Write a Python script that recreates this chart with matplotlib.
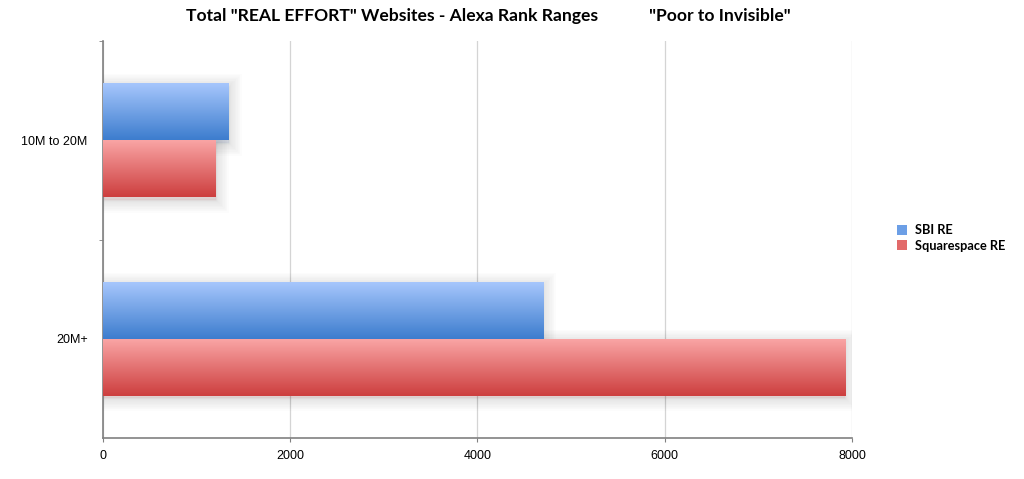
import matplotlib.pyplot as plt
import numpy as np
from matplotlib import patheffects as pe
from matplotlib.colors import LinearSegmentedColormap
from matplotlib.patches import Patch

# data
categories = ["10M to 20M", "20M+"]
series_names = ["SBI RE", "Squarespace RE"]
sbi_re = [1345, 4700]
squarespace_re = [1205, 7930]
x_ticks = [0, 2000, 4000, 6000, 8000]

# gradients top -> bottom, like the original keynote look
blue_grad = ["#a6c6fc", "#3d7dce"]
red_grad = ["#f9a4a4", "#cd3f3f"]

plt.rcParams['font.family'] = ['Liberation Sans', 'DejaVu Sans']

fig = plt.figure(figsize=(10.24, 4.79), dpi=100)
ax = fig.add_axes([0.1006, 0.0856, 0.7314, 0.8288])

y = np.arange(len(categories))
h = 0.287
# soft drop shadow, mostly below the bar
shadow = [pe.Stroke(linewidth=lw, foreground='black', alpha=0.012, offset=(0, -2))
          for lw in range(18, 0, -2)] + [pe.Normal()]

for vals, off, grad in [(sbi_re, -h / 2, blue_grad), (squarespace_re, h / 2, red_grad)]:
    bars = ax.barh(y + off, vals, height=h, color=grad[1], edgecolor='none',
                   zorder=2, path_effects=shadow)
    cmap = LinearSegmentedColormap.from_list('g', grad)
    for b in bars:
        x0, y0, w, hh = b.get_x(), b.get_y(), b.get_width(), b.get_height()
        ax.imshow(np.linspace(0, 1, 64).reshape(-1, 1), cmap=cmap, aspect='auto',
                  extent=(x0, x0 + w, y0 + hh, y0), zorder=3, interpolation='bilinear')

ax.set_xlim(0, 8000)
ax.set_ylim(1.5, -0.5)
ax.set_xticks(x_ticks)
ax.set_xticklabels([str(v) for v in x_ticks], fontsize=9)
ax.set_yticks(y)
ax.set_yticklabels(categories, fontsize=9)
ax.set_yticks([-0.5, 0.5], minor=True)
ax.tick_params(axis='y', which='major', length=0, pad=11)
ax.tick_params(axis='y', which='minor', length=3, color='#808080')
ax.tick_params(axis='x', length=3, color='#808080', pad=6)

ax.grid(axis='x', color='#d4d4d4', linewidth=0.9, zorder=0)
ax.set_axisbelow(True)
for s in ['top', 'right']:
    ax.spines[s].set_visible(False)
for s in ['left', 'bottom']:
    ax.spines[s].set_color('#808080')
    ax.spines[s].set_linewidth(1.2)

handles = [Patch(facecolor='#6c9fe6', edgecolor='none'),
           Patch(facecolor='#e26a6a', edgecolor='none')]
fig.legend(handles, series_names, loc='center left', bbox_to_anchor=(0.865, 0.503),
           frameon=False, prop={'family': 'Lato', 'weight': 'bold', 'size': 9.2},
           handlelength=0.8, handleheight=0.8, handletextpad=0.6, labelspacing=0.25)

fig.text(0.477, 0.967, 'Total "REAL EFFORT" Websites - Alexa Rank Ranges            "Poor to Invisible"',
         ha='center', va='center', fontsize=12.6, fontweight='bold', family='Lato')

plt.savefig('out.png', dpi=100)
